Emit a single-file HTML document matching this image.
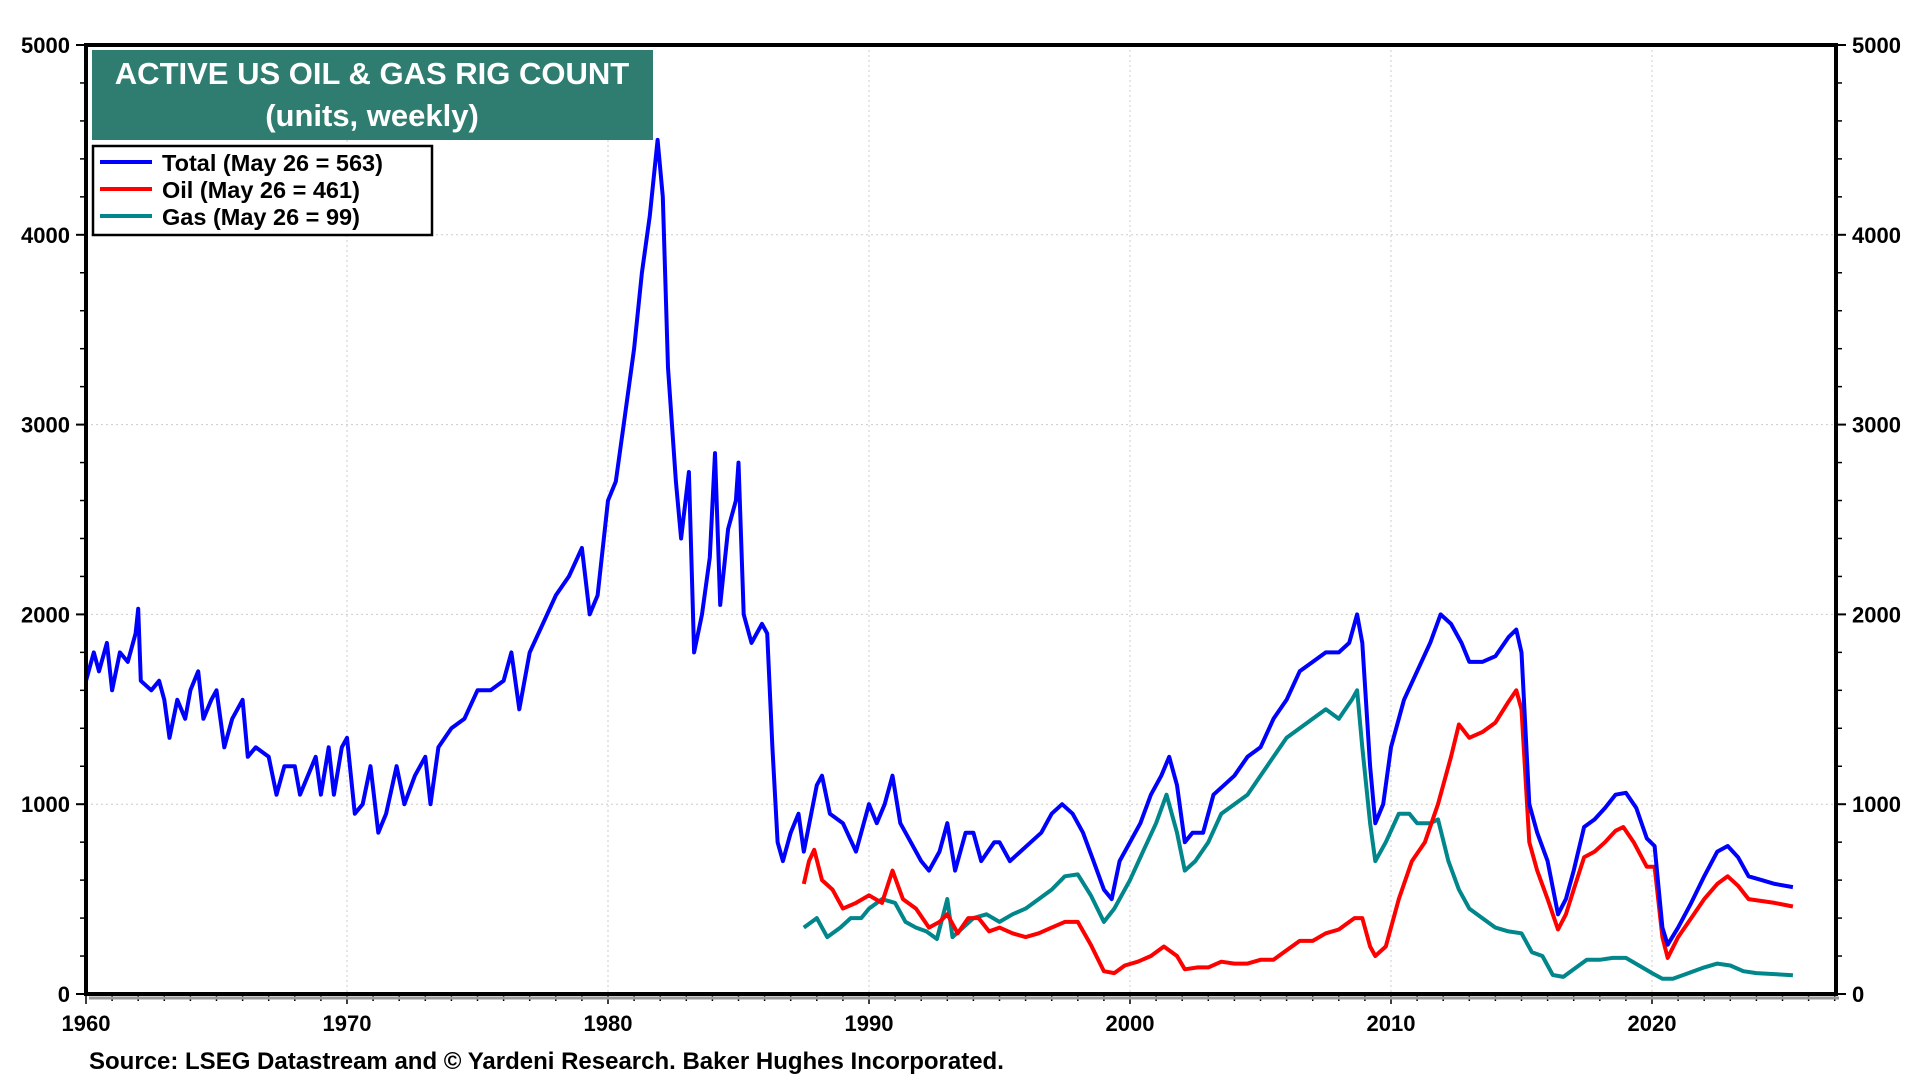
<!DOCTYPE html>
<html><head><meta charset="utf-8"><style>
body{margin:0;background:#fff;width:1920px;height:1080px;overflow:hidden;font-family:"Liberation Sans",Arial,sans-serif}
svg text{font-family:"Liberation Sans",Arial,sans-serif;font-weight:bold}
</style></head><body>
<svg id="chart" width="1920" height="1080" xmlns="http://www.w3.org/2000/svg">
<g id="grid"></g>
<g id="series"></g>
<g id="axes"></g>
<rect x="92" y="50" width="561" height="90" fill="#2e7d70"/>
<text x="372" y="84" fill="#fff" font-size="31" text-anchor="middle">ACTIVE US OIL &amp; GAS RIG COUNT</text>
<text x="372" y="126" fill="#fff" font-size="31" text-anchor="middle">(units, weekly)</text>
<g>
<rect x="93" y="146" width="339" height="89" fill="#fff" stroke="#000" stroke-width="2.5"/>
<line x1="100" y1="162" x2="152" y2="162" stroke="#0000ff" stroke-width="4"/>
<text x="162" y="171" font-size="23.5">Total (May 26 = 563)</text>
<line x1="100" y1="189" x2="152" y2="189" stroke="#ff0000" stroke-width="4"/>
<text x="162" y="198" font-size="23.5">Oil (May 26 = 461)</text>
<line x1="100" y1="216" x2="152" y2="216" stroke="#00868b" stroke-width="4"/>
<text x="162" y="225" font-size="23.5">Gas (May 26 = 99)</text>
</g>
<text x="89" y="1069" font-size="24">Source: LSEG Datastream and © Yardeni Research. Baker Hughes Incorporated.</text>
</svg>
<script>
const yTicks=[0,1000,2000,3000,4000,5000];
const xTicks=[1960,1970,1980,1990,2000,2010,2020];
const totalT=[1960,1960.3,1960.5,1960.8,1961,1961.3,1961.6,1961.9,1962,1962.1,1962.5,1962.8,1963,1963.2,1963.5,1963.8,1964,1964.3,1964.5,1964.8,1965,1965.3,1965.6,1966,1966.2,1966.5,1967,1967.3,1967.6,1968,1968.2,1968.5,1968.8,1969,1969.3,1969.5,1969.8,1970,1970.3,1970.6,1970.9,1971.2,1971.5,1971.9,1972.2,1972.6,1973,1973.2,1973.5,1974,1974.5,1975,1975.5,1976,1976.3,1976.6,1977,1977.5,1978,1978.5,1979,1979.3,1979.6,1980,1980.3,1980.6,1981,1981.3,1981.6,1981.9,1982.1,1982.3,1982.6,1982.8,1983.1,1983.3,1983.6,1983.9,1984.1,1984.3,1984.6,1984.9,1985,1985.2,1985.5,1985.9,1986.1,1986.3,1986.5,1986.7,1987,1987.3,1987.5,1988,1988.2,1988.5,1989,1989.5,1990,1990.3,1990.6,1990.9,1991.2,1991.6,1992,1992.3,1992.7,1993,1993.3,1993.7,1994,1994.3,1994.8,1995,1995.4,1995.8,1996.2,1996.6,1997,1997.4,1997.8,1998.2,1998.6,1999,1999.3,1999.6,2000,2000.4,2000.8,2001.2,2001.5,2001.8,2002.1,2002.4,2002.8,2003.2,2003.6,2004,2004.5,2005,2005.5,2006,2006.5,2007,2007.5,2008,2008.4,2008.7,2008.9,2009.2,2009.4,2009.7,2010,2010.5,2011,2011.5,2011.9,2012.3,2012.7,2013,2013.5,2014,2014.5,2014.8,2015,2015.3,2015.6,2016,2016.4,2016.7,2017,2017.4,2017.8,2018.2,2018.6,2019,2019.4,2019.8,2020.1,2020.4,2020.6,2021,2021.5,2022,2022.5,2022.9,2023.3,2023.7,2024.2,2024.7,2025.4];
const totalV=[1650,1800,1700,1850,1600,1800,1750,1900,2030,1650,1600,1650,1550,1350,1550,1450,1600,1700,1450,1550,1600,1300,1450,1550,1250,1300,1250,1050,1200,1200,1050,1150,1250,1050,1300,1050,1300,1350,950,1000,1200,850,950,1200,1000,1150,1250,1000,1300,1400,1450,1600,1600,1650,1800,1500,1800,1950,2100,2200,2350,2000,2100,2600,2700,3000,3400,3800,4100,4500,4200,3300,2700,2400,2750,1800,2000,2300,2850,2050,2450,2600,2800,2000,1850,1950,1900,1300,800,700,850,950,750,1100,1150,950,900,750,1000,900,1000,1150,900,800,700,650,750,900,650,850,850,700,800,800,700,750,800,850,950,1000,950,850,700,550,500,700,800,900,1050,1150,1250,1100,800,850,850,1050,1100,1150,1250,1300,1450,1550,1700,1750,1800,1800,1850,2000,1850,1200,900,1000,1300,1550,1700,1850,2000,1950,1850,1750,1750,1780,1880,1920,1800,1000,850,700,420,500,650,880,920,980,1050,1060,980,820,780,350,260,350,480,620,750,780,720,620,600,580,563];
const oilT=[1987.5,1987.7,1987.9,1988.2,1988.6,1989,1989.5,1990,1990.5,1990.9,1991.3,1991.8,1992.3,1992.7,1993,1993.4,1993.8,1994.2,1994.6,1995,1995.5,1996,1996.5,1997,1997.5,1998,1998.5,1999,1999.4,1999.8,2000.3,2000.8,2001.3,2001.8,2002.1,2002.6,2003,2003.5,2004,2004.5,2005,2005.5,2006,2006.5,2007,2007.5,2008,2008.6,2008.9,2009.2,2009.4,2009.8,2010.3,2010.8,2011.3,2011.8,2012.3,2012.6,2013,2013.5,2014,2014.5,2014.8,2015,2015.3,2015.6,2016,2016.4,2016.7,2017,2017.4,2017.8,2018.2,2018.6,2018.9,2019.3,2019.8,2020.1,2020.4,2020.6,2021,2021.5,2022,2022.5,2022.9,2023.3,2023.7,2024.2,2024.7,2025.4];
const oilV=[580,700,760,600,550,450,480,520,480,650,500,450,350,380,420,320,400,400,330,350,320,300,320,350,380,380,260,120,110,150,170,200,250,200,130,140,140,170,160,160,180,180,230,280,280,320,340,400,400,250,200,250,500,700,800,1000,1250,1420,1350,1380,1430,1540,1600,1500,800,650,500,340,420,550,720,750,800,860,880,800,670,670,300,190,300,400,500,580,620,570,500,490,480,461];
const gasT=[1987.5,1988,1988.4,1988.9,1989.3,1989.7,1990,1990.5,1991,1991.4,1991.8,1992.2,1992.6,1993,1993.2,1993.6,1994,1994.5,1995,1995.5,1996,1996.5,1997,1997.5,1998,1998.5,1999,1999.4,2000,2000.5,2001,2001.4,2001.8,2002.1,2002.5,2003,2003.5,2004,2004.5,2005,2005.5,2006,2006.5,2007,2007.5,2008,2008.5,2008.7,2008.9,2009.2,2009.4,2009.8,2010.3,2010.7,2011,2011.5,2011.8,2012.2,2012.6,2013,2013.5,2014,2014.5,2015,2015.4,2015.8,2016.2,2016.6,2017,2017.5,2018,2018.5,2019,2019.5,2020,2020.4,2020.8,2021.2,2022,2022.5,2023,2023.5,2024,2025.4];
const gasV=[350,400,300,350,400,400,450,500,480,380,350,330,290,500,300,350,400,420,380,420,450,500,550,620,630,520,380,450,600,750,900,1050,850,650,700,800,950,1000,1050,1150,1250,1350,1400,1450,1500,1450,1550,1600,1300,900,700,800,950,950,900,900,920,700,550,450,400,350,330,320,220,200,100,90,130,180,180,190,190,150,110,80,80,100,140,160,150,120,110,99];

const NS='http://www.w3.org/2000/svg';
const L=86,R=1836,T=45,B=994;
const xs=t=>L+(t-1960)*(1652-86)/60;
const ys=v=>B-v*(B-T)/5000;
function mk(tag,attrs,parent){const e=document.createElementNS(NS,tag);for(const k in attrs)e.setAttribute(k,attrs[k]);parent.appendChild(e);return e;}
const grid=document.getElementById('grid'),axes=document.getElementById('axes'),ser=document.getElementById('series');
yTicks.forEach(v=>{
 if(v>0&&v<5000){const g=mk('line',{x1:L,x2:R,y1:ys(v),y2:ys(v),stroke:'#ccc','stroke-width':1,'stroke-dasharray':'2,3'},grid);
 
 }
 const a=mk('text',{x:L-16,y:ys(v)+8,'font-size':22,'text-anchor':'end'},axes);a.textContent=v;
 
 
 const b=mk('text',{x:R+16,y:ys(v)+8,'font-size':22},axes);b.textContent=v;
 
 
 mk('line',{x1:L-10,x2:L,y1:ys(v),y2:ys(v),stroke:'#000','stroke-width':2},axes);
 mk('line',{x1:R,x2:R+10,y1:ys(v),y2:ys(v),stroke:'#000','stroke-width':2},axes);
});
for(let v=200;v<5000;v+=200){if(v%1000){mk('line',{x1:L-6,x2:L,y1:ys(v),y2:ys(v),stroke:'#000','stroke-width':1.5},axes);mk('line',{x1:R,x2:R+6,y1:ys(v),y2:ys(v),stroke:'#000','stroke-width':1.5},axes);}}
xTicks.forEach(t=>{
 if(t>1960){const g=mk('line',{x1:xs(t),x2:xs(t),y1:T,y2:B,stroke:'#ccc','stroke-width':1,'stroke-dasharray':'2,3'},grid);
 
 }
 const a=mk('text',{x:xs(t),y:B+37,'font-size':22,'text-anchor':'middle'},axes);a.textContent=t;
 
 
});
for(let y=1960;y<=2027;y++){mk('line',{x1:xs(y),x2:xs(y),y1:B,y2:B+(y%10?7:10),stroke:'#000','stroke-width':1.5},axes);}
mk('line',{x1:L+3,x2:R+3,y1:B+4,y2:B+4,stroke:'#999','stroke-width':3},axes);
mk('rect',{x:L,y:T,width:R-L,height:B-T,fill:'none',stroke:'#000','stroke-width':4},axes);
function draw(T_,V,color,name){
 const p=mk('polyline',{points:T_.map((t,i)=>xs(t).toFixed(1)+','+ys(V[i]).toFixed(1)).join(' '),fill:'none',stroke:color,'stroke-width':4,'stroke-linejoin':'round'},ser);
 
 
}
draw(gasT,gasV,'#00868b','gas-line');
draw(oilT,oilV,'#ff0000','oil-line');
draw(totalT,totalV,'#0000ff','total-line');
</script>
</body></html>
